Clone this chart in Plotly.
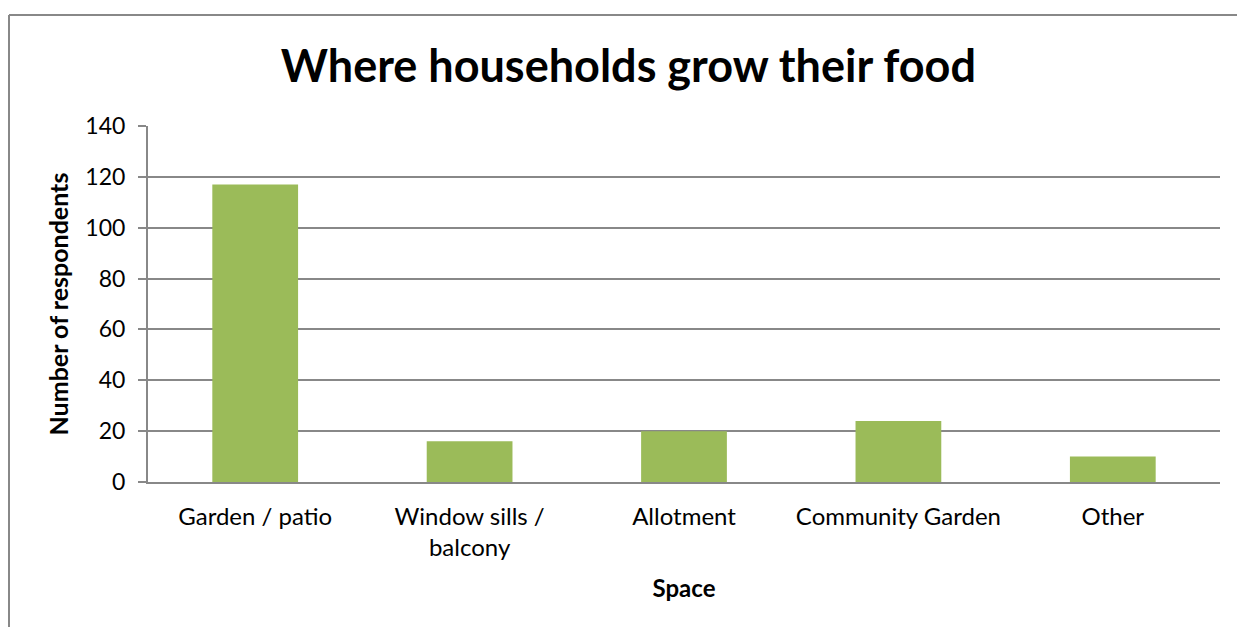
import plotly.graph_objects as go

# Survey results: where households grow their food
spaces = ["Garden / patio", "Window sills /<br>balcony", "Allotment", "Community Garden", "Other"]
respondents = [117, 16, 20, 24, 10]
y_ticks = [0, 20, 40, 60, 80, 100, 120, 140]

BAR_GREEN = "#9BBB59"
GRID_GREY = "#888888"
FONT = "Lato"

fig = go.Figure(
    go.Bar(
        x=spaces,
        y=respondents,
        marker=dict(color=BAR_GREEN, line=dict(width=0)),
        hoverinfo="x+y",
    )
)

fig.update_layout(
    width=1237,
    height=627,
    margin=dict(l=148, r=17, t=126, b=145),
    paper_bgcolor="white",
    plot_bgcolor="white",
    bargap=0.6,
    showlegend=False,
    font=dict(family=FONT, color="#000000", size=24),
    title=dict(
        text="<b>Where households grow their food</b>",
        font=dict(family=FONT, size=45, color="#000000"),
        x=0.508,
        xanchor="center",
        y=0.895,
        yanchor="middle",
    ),
    xaxis=dict(
        showgrid=False,
        showline=True,
        linecolor=GRID_GREY,
        linewidth=2,
        ticks="",
        tickfont=dict(family=FONT, size=24),
        ticklabelstandoff=12,
        title=dict(text="<b>Space</b>", font=dict(family=FONT, size=24), standoff=20),
    ),
    yaxis=dict(
        range=[0, 140],
        tickvals=y_ticks,
        showgrid=True,
        gridcolor=GRID_GREY,
        gridwidth=2,
        zeroline=False,
        showline=True,
        linecolor=GRID_GREY,
        linewidth=2,
        ticks="outside",
        ticklen=8,
        tickwidth=2,
        tickcolor=GRID_GREY,
        tickfont=dict(family=FONT, size=23),
        ticklabelstandoff=8,
        title=dict(text="<b>Number of respondents</b>", font=dict(family=FONT, size=25), standoff=10),
    ),
)

# Chart frame: left and top edges of the outer border
frame_left = (9 - 148) / 1072
frame_top = 1 + (126 - 15) / 356
fig.add_shape(type="line", xref="paper", yref="paper",
              x0=frame_left, x1=frame_left, y0=frame_top, y1=-0.5,
              line=dict(color=GRID_GREY, width=2))
fig.add_shape(type="line", xref="paper", yref="paper",
              x0=frame_left, x1=1.2, y0=frame_top, y1=frame_top,
              line=dict(color=GRID_GREY, width=2))

fig.write_html("out.html")
